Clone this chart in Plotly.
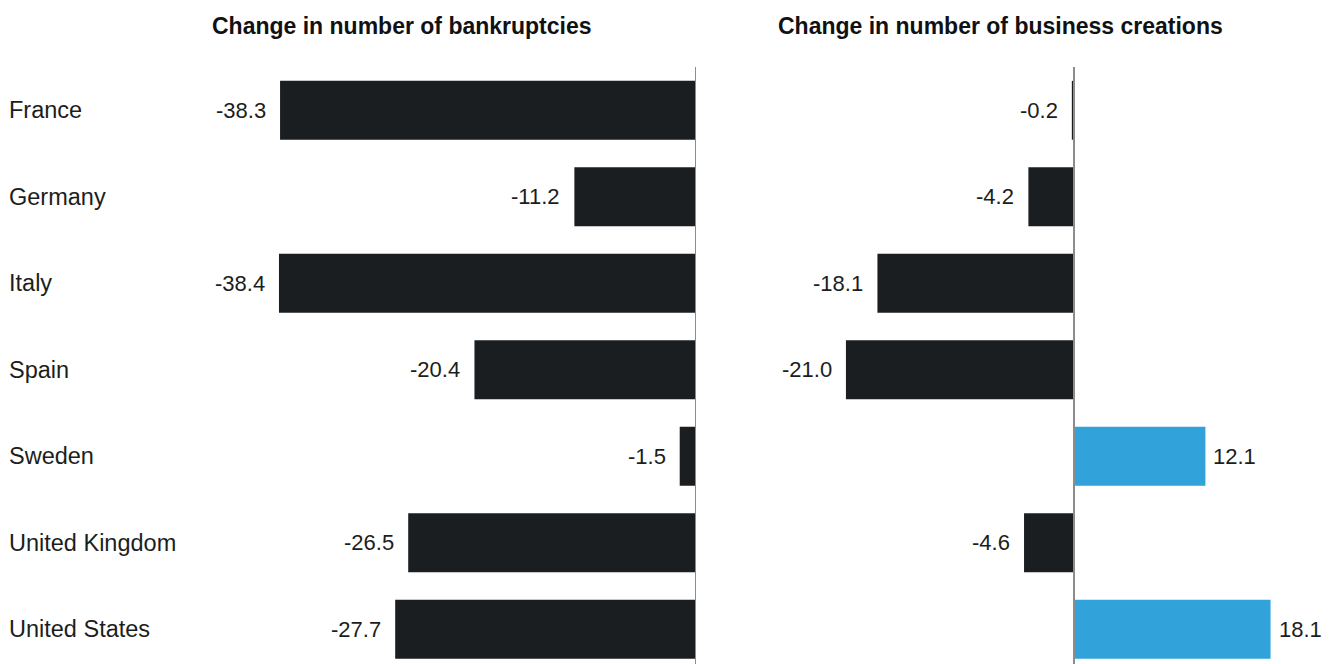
import plotly.graph_objects as go

countries = ["France", "Germany", "Italy", "Spain", "Sweden", "United Kingdom", "United States"]
bankruptcies = [-38.3, -11.2, -38.4, -20.4, -1.5, -26.5, -27.7]
creations = [-0.2, -4.2, -18.1, -21.0, 12.1, -4.6, 18.1]
titles = ["Change in number of bankruptcies", "Change in number of business creations"]

DARK = "#1b1e20"
BLUE = "#31a2da"
W, H = 1333, 664
PX_PER_UNIT = 10.86
ZERO_L = 696
ZERO_R = 1074
RIGHT_START = 700

fig = go.Figure()

fig.add_trace(go.Bar(
    y=countries, x=bankruptcies, orientation="h", xaxis="x", yaxis="y",
    marker=dict(color=DARK, line=dict(width=0)), width=0.68, hoverinfo="skip"))
fig.add_trace(go.Bar(
    y=countries, x=creations, orientation="h", xaxis="x2", yaxis="y",
    marker=dict(color=[BLUE if v > 0 else DARK for v in creations], line=dict(width=0)),
    width=0.68, hoverinfo="skip"))

annotations = []
for c in countries:
    annotations.append(dict(x=7 / W, xref="paper", y=c, yref="y", text=c, showarrow=False,
                            xanchor="left", yanchor="middle",
                            font=dict(family="Liberation Sans", size=23.5, color="#1b1e20")))
for xr, vals in (("x", bankruptcies), ("x2", creations)):
    for c, v in zip(countries, vals):
        neg = v < 0
        annotations.append(dict(x=v, xref=xr, y=c, yref="y", text=f"{v:.1f}", showarrow=False,
                                xanchor="right" if neg else "left", yanchor="middle",
                                xshift=-12 if neg else 6,
                                font=dict(family="Liberation Sans", size=22, color="#1b1e20")))
plot_top = 67
for cx, t in ((402, titles[0]), (1000, titles[1])):
    annotations.append(dict(x=cx / W, xref="paper", y=1 + (plot_top - 26) / (H - plot_top),
                            yref="paper", text=f"<b>{t}</b>",
                            showarrow=False, xanchor="center", yanchor="middle",
                            font=dict(family="Liberation Sans", size=23, color="#111111")))

shapes = [
    dict(type="line", xref="x", yref="paper", x0=0, x1=0, y0=0, y1=1,
         line=dict(color="#8c8c8c", width=2)),
    dict(type="line", xref="x2", yref="paper", x0=0, x1=0, y0=0, y1=1,
         line=dict(color="#8c8c8c", width=2)),
]

fig.update_layout(
    width=W, height=H,
    margin=dict(l=0, r=0, t=plot_top, b=0),
    paper_bgcolor="white", plot_bgcolor="white",
    showlegend=False,
    xaxis=dict(domain=[0, ZERO_L / W], range=[-ZERO_L / PX_PER_UNIT, 0],
               showgrid=False, zeroline=False, showticklabels=False, showline=False),
    xaxis2=dict(domain=[RIGHT_START / W, 1],
                range=[-(ZERO_R - RIGHT_START) / PX_PER_UNIT, (W - ZERO_R) / PX_PER_UNIT],
                showgrid=False, zeroline=False, showticklabels=False, showline=False),
    yaxis=dict(categoryorder="array", categoryarray=countries,
               range=[-0.5 + (H - plot_top) / 86.5, -0.5],
               showgrid=False, zeroline=False, showticklabels=False, showline=False),
    annotations=annotations,
    shapes=shapes,
)

fig.write_html("out.html", config={"displayModeBar": False},
               post_script="document.body.style.margin='0';document.body.style.overflow='hidden';")
